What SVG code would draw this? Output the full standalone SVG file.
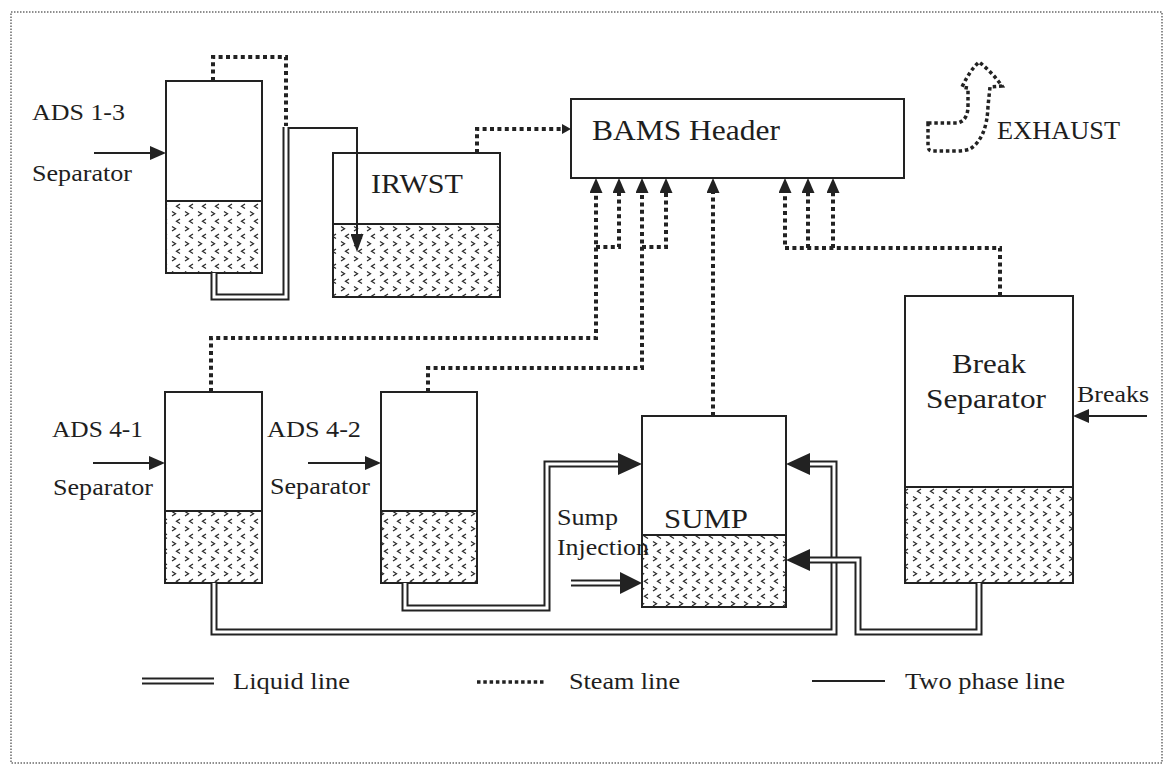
<svg xmlns="http://www.w3.org/2000/svg" width="1165" height="768" viewBox="0 0 1165 768">
<style>
  .box{fill:#fff;stroke:#222;stroke-width:2}
  .liq{fill:url(#hatch);stroke:#222;stroke-width:2}
  .steam{fill:none;stroke:#222;stroke-width:4;stroke-dasharray:4 3.4}
  .steam-t{fill:none;stroke:#222;stroke-width:3.5;stroke-dasharray:3.5 2.8}
  .tp{fill:none;stroke:#222;stroke-width:2}
  .liq-o{fill:none;stroke:#222;stroke-width:7;stroke-linejoin:miter}
  .liq-i{fill:none;stroke:#fff;stroke-width:3;stroke-linejoin:miter}
  .ah{fill:#222}
  text{font-family:"Liberation Serif","Times New Roman",serif;fill:#1e1e1e}
  .frame{fill:none;stroke:#6a6a6a;stroke-width:1.5;stroke-dasharray:1.5 1.5}
</style>
<defs>
  <pattern id="hatch" patternUnits="userSpaceOnUse" x="0" y="0" width="13" height="15">
    <rect width="13" height="15" fill="#fff"/>
    <path d="M3,1.5 L6.5,3.8 L3,6 M11,9 L7.5,11.3 L11,13.5" fill="none" stroke="#2a2a2a" stroke-width="1.3"/>
  </pattern>
  <marker id="ah-bams" markerUnits="userSpaceOnUse" markerWidth="15" markerHeight="13" refX="0" refY="6.5" orient="auto" viewBox="0 0 15 13"><path d="M0,0 L15,6.5 L0,13 Z" fill="#222"/></marker>
  <marker id="ah-in" markerUnits="userSpaceOnUse" markerWidth="16" markerHeight="14" refX="0" refY="7" orient="auto" viewBox="0 0 16 14"><path d="M0,0 L16,7 L0,14 Z" fill="#222"/></marker>
  <marker id="ah-down" markerUnits="userSpaceOnUse" markerWidth="18" markerHeight="13" refX="0" refY="6.5" orient="auto" viewBox="0 0 18 13"><path d="M0,0 L18,6.5 L0,13 Z" fill="#222"/></marker>
  <marker id="ah-small" markerUnits="userSpaceOnUse" markerWidth="9" markerHeight="10" refX="0" refY="5" orient="auto" viewBox="0 0 9 10"><path d="M0,0 L9,5 L0,10 Z" fill="#222"/></marker>
</defs>

<rect width="1165" height="768" fill="#fff"/>
<rect class="frame" x="11" y="12" width="1151" height="751"/>

<!-- Nodes -->
<g id="ads13">
  <rect class="box" x="166" y="81" width="96" height="192"/>
  <rect class="liq" x="166" y="201" width="96" height="72"/>
  <text x="32" y="120" font-size="24" textLength="93" lengthAdjust="spacingAndGlyphs">ADS 1-3</text>
  <text x="32" y="181" font-size="24" textLength="100" lengthAdjust="spacingAndGlyphs">Separator</text>
</g>
<g id="irwst">
  <rect class="box" x="333" y="153" width="167" height="144"/>
  <rect class="liq" x="333" y="224" width="167" height="73"/>
  <text x="371" y="193" font-size="28" textLength="92" lengthAdjust="spacingAndGlyphs">IRWST</text>
</g>
<g id="bams">
  <rect class="box" x="571" y="99" width="333" height="79"/>
  <text x="592" y="140" font-size="29" textLength="188" lengthAdjust="spacingAndGlyphs">BAMS Header</text>
</g>
<g id="exhaust">
  <path class="steam-t" d="M928,123 H958 Q968,120 968,106 V88 L962,87 Q970,70 979,62 Q992,72 1002,86 L990,87 L988,106 Q987,138 970,149 Q964,151 955,151 H932 Q928,151 928,145 Z"/>
  <text x="997" y="139" font-size="25" textLength="123" lengthAdjust="spacingAndGlyphs">EXHAUST</text>
</g>
<g id="ads41">
  <rect class="box" x="165" y="392" width="97" height="191"/>
  <rect class="liq" x="165" y="511" width="97" height="72"/>
  <text x="52" y="437" font-size="24" textLength="91" lengthAdjust="spacingAndGlyphs">ADS 4-1</text>
  <text x="53" y="495" font-size="24" textLength="100" lengthAdjust="spacingAndGlyphs">Separator</text>
</g>
<g id="ads42">
  <rect class="box" x="381" y="392" width="96" height="191"/>
  <rect class="liq" x="381" y="511" width="96" height="72"/>
  <text x="267" y="437" font-size="24" textLength="94" lengthAdjust="spacingAndGlyphs">ADS 4-2</text>
  <text x="270" y="494" font-size="24" textLength="100" lengthAdjust="spacingAndGlyphs">Separator</text>
</g>
<g id="sump">
  <rect class="box" x="642" y="416" width="144" height="191"/>
  <rect class="liq" x="642" y="535" width="144" height="72"/>
  <text x="664" y="528" font-size="28" textLength="84" lengthAdjust="spacingAndGlyphs">SUMP</text>
  <text x="557" y="525" font-size="24" textLength="61" lengthAdjust="spacingAndGlyphs">Sump</text>
  <text x="557" y="555" font-size="24" textLength="92" lengthAdjust="spacingAndGlyphs">Injection</text>
</g>
<g id="break-separator">
  <rect class="box" x="905" y="296" width="168" height="287"/>
  <rect class="liq" x="905" y="487" width="168" height="96"/>
  <text x="952" y="373" font-size="28" textLength="74" lengthAdjust="spacingAndGlyphs">Break</text>
  <text x="926" y="408" font-size="28" textLength="120" lengthAdjust="spacingAndGlyphs">Separator</text>
  <text x="1077" y="402" font-size="24" textLength="72" lengthAdjust="spacingAndGlyphs">Breaks</text>
</g>

<!-- Connectors -->
<g id="connectors">
  <path class="tp" d="M94,153 H150" marker-end="url(#ah-in)"/>
  <path class="tp" d="M93,463 H149" marker-end="url(#ah-in)"/>
  <path class="tp" d="M308,463 H365" marker-end="url(#ah-in)"/>
  <path class="tp" d="M1147,416 H1089" marker-end="url(#ah-in)"/>
  <path class="tp" d="M287,128 H357 V234" marker-end="url(#ah-down)"/>

  <path class="steam" d="M213,81 V57 H286 V126"/>
  <path class="steam" d="M477,153 V129 H562" marker-end="url(#ah-small)"/>
  <path class="steam" d="M211,392 V338 H596 V193" marker-end="url(#ah-bams)"/>
  <path class="steam" d="M596,247 H619 V193" marker-end="url(#ah-bams)"/>
  <path class="steam" d="M428,392 V368 H642 V193" marker-end="url(#ah-bams)"/>
  <path class="steam" d="M642,247 H666 V193" marker-end="url(#ah-bams)"/>
  <path class="steam" d="M713,416 V193" marker-end="url(#ah-bams)"/>
  <path class="steam" d="M1000,296 V248 H785 V193" marker-end="url(#ah-bams)"/>
  <path class="steam" d="M808,248 V193" marker-end="url(#ah-bams)"/>
  <path class="steam" d="M833,248 V193" marker-end="url(#ah-bams)"/>

  <path class="liq-o" d="M214,273 V297 H286 V127"/>
  <path class="liq-i" d="M214,273 V297 H286 V127"/>
  <path class="liq-o" d="M214,583 V632 H834 V464 H810"/>
  <path class="liq-i" d="M214,583 V632 H834 V464 H810"/>
  <path class="liq-o" d="M405,583 V608 H547 V464 H618"/>
  <path class="liq-i" d="M405,583 V608 H547 V464 H618"/>
  <path class="liq-o" d="M571,583 H620"/>
  <path class="liq-i" d="M571,583 H620"/>
  <path class="liq-o" d="M979,583 V632 H858 V560 H810"/>
  <path class="liq-i" d="M979,583 V632 H858 V560 H810"/>
  <polygon class="ah" points="618,453 642,464 618,475"/>
  <polygon class="ah" points="620,572 642,583 620,594"/>
  <polygon class="ah" points="810,453 786,464 810,475"/>
  <polygon class="ah" points="810,549 786,560 810,571"/>
</g>

<!-- Legend -->
<g id="legend">
  <path class="liq-o" d="M142,681 H214"/>
  <path class="liq-i" d="M142,681 H214"/>
  <text x="233" y="689" font-size="24" textLength="117" lengthAdjust="spacingAndGlyphs">Liquid line</text>
  <path class="steam-t" d="M477,682 H545"/>
  <text x="569" y="689" font-size="24" textLength="111" lengthAdjust="spacingAndGlyphs">Steam line</text>
  <path class="tp" d="M812,681 H885"/>
  <text x="905" y="689" font-size="24" textLength="160" lengthAdjust="spacingAndGlyphs">Two phase line</text>
</g>
</svg>
